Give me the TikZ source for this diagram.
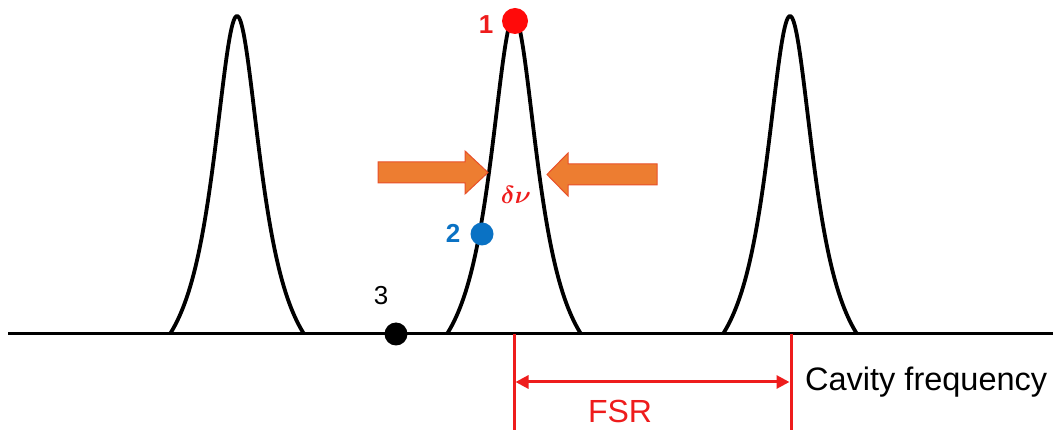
\documentclass[tikz,border=0pt]{standalone}
\usepackage{fontspec}
\usepackage{amsmath,bm}
\setmainfont{Liberation Sans}
\usetikzlibrary{arrows.meta}
\definecolor{pkred}{HTML}{EE1C1C}
\definecolor{dotred}{HTML}{FF0A0A}
\definecolor{dotblue}{HTML}{0A72C4}
\definecolor{arrorange}{HTML}{ED7D31}
\definecolor{arredge}{HTML}{E8502A}
\tikzset{
  peak/.style={line width=3.8pt, line join=round},
  axis/.style={line width=3pt},
  redline/.style={draw=pkred, line width=3pt},
  dot/.style={circle, inner sep=0pt, minimum size=#1},
  lbl/.style={font=\fontsize{26}{28}\selectfont, inner sep=0pt},
  fat/.style={fill=arrorange, draw=arredge, line width=1pt, line join=miter},
}
\begin{document}
\begin{tikzpicture}[x=1pt,y=-1pt]
\useasboundingbox (0,0) rectangle (1061,430);
% baseline
\coordinate (a0) at (8,334);
\coordinate (a1) at (1053,334);
\draw[axis] (a0) -- (a1);
% peaks (Lorentzian, truncated)
\foreach \c in {237,514,790}{
  \draw[peak] plot[domain=-67:67, samples=121, smooth] ({\c+\x}, {334 - (381.7/(1+(\x/30)^2) - 63.7)});
}
% fat arrows
\draw[fat] (378,162) -- (465,162) -- (465,151) -- (488,172.5) -- (465,194) -- (465,183) -- (378,183) -- cycle;
\draw[fat] (657,164) -- (568,164) -- (568,153) -- (547,174.5) -- (568,196) -- (568,185) -- (657,185) -- cycle;
\node[text=pkred, inner sep=0pt, font=\fontsize{26}{28}\selectfont\boldmath] (dn) at (516,195) {$\bm{\delta\nu}$};
% points
\node[dot=26pt, fill=dotred] (p1) at (515,21) {};
\node[lbl, text=pkred, font=\fontsize{26}{28}\selectfont\bfseries] (l1) at (486,25) {1};
\node[dot=23pt, fill=dotblue] (p2) at (482,234) {};
\node[lbl, text=dotblue, font=\fontsize{26}{28}\selectfont\bfseries] (l2) at (453,233) {2};
\node[dot=23pt, fill=black] (p3) at (396,334) {};
\node[lbl] (l3) at (381,296) {3};
% FSR
\coordinate (v1t) at (514,334);
\coordinate (v1b) at (514,430);
\coordinate (v2t) at (791,334);
\coordinate (v2b) at (791,430);
\draw[redline] (v1t) -- (v1b);
\draw[redline] (v2t) -- (v2b);
\coordinate (f1) at (515.5,382);
\coordinate (f2) at (789.5,382);
\draw[redline, {Triangle[length=13pt,width=13pt]}-{Triangle[length=13pt,width=13pt]}] (f1) -- (f2);
\node[text=pkred, inner sep=0pt, font=\fontsize{32}{34}\selectfont] (fsr) at (620,411) {FSR};
\node[anchor=west, inner sep=0pt, font=\fontsize{32.5}{34}\selectfont] (cf) at (805,382) {Cavity frequency};
\end{tikzpicture}
\end{document}
